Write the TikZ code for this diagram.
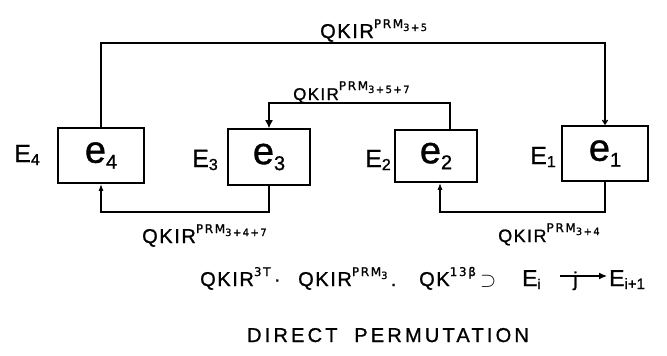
\documentclass[tikz,border=0pt]{standalone}
\usepackage{fontspec}
\setmainfont{Liberation Sans}[FakeBold=1]
\newfontfamily\hand[LetterSpace=8,FakeBold=1]{Liberation Sans}
\newfontfamily\handsup[LetterSpace=14,FakeBold=1]{DejaVu Sans}
\newfontfamily\handwide[LetterSpace=16,FakeBold=1]{Liberation Sans}
\usetikzlibrary{arrows.meta}
\newcommand{\hsz}[1]{\fontsize{#1}{#1}\selectfont}
\newcommand{\myup}[1]{\raisebox{10pt}{\handsup\hsz{12}#1}}
\newcommand{\mydn}[1]{\raisebox{-3pt}{\hsz{10}#1}}
\newcommand{\ebig}[1]{\raisebox{-6pt}{\hsz{20}#1}}
\begin{document}
\begin{tikzpicture}[x=1pt,y=-1pt,
  box/.style={draw,line width=1.7pt,inner sep=0pt},
  wire/.style={line width=1.2pt},
  tipup/.style={-{Latex[length=7pt,width=5pt]}},
  tipbig/.style={-{Latex[length=8pt,width=8pt]}},
  tipsmall/.style={-{Straight Barb[length=4pt,width=5pt]}},
  lab/.style={anchor=base west,inner sep=0pt,font=\hand\hsz{20}},
  elab/.style={inner sep=0pt,font=\hsz{25}},
  inbox/.style={font=\hsz{38}}]
\useasboundingbox (0,0) rectangle (667,356);
\fill[white] (0,0) rectangle (667,356);

% boxes
\node[box,minimum width=86pt,minimum height=55pt,inbox] (b4) at (101,155.5) {e\ebig{4}};
\node[box,minimum width=82pt,minimum height=56pt,inbox] (b3) at (269,157) {e\ebig{3}};
\node[box,minimum width=82pt,minimum height=52pt,inbox] (b2) at (436,156) {e\ebig{2}};
\node[box,minimum width=86pt,minimum height=55pt,inbox] (b1) at (605,153.5) {e\ebig{1}};

% E labels
\node[elab] (E4) at (27,155) {E\mydn{\hsz{16}4}};
\node[elab] (E3) at (205,160) {E\mydn{\hsz{16}3}};
\node[elab] (E2) at (378,160) {E\mydn{\hsz{16}2}};
\node[elab] (E1) at (543,157) {E\mydn{\hsz{16}1}};

% routing coordinates
\coordinate (top) at (350,43);
\coordinate (inner) at (350,103);
\coordinate (bl) at (180,212);
\coordinate (br) at (520,212);

% connectors
\draw[wire,tipsmall] (b4.north) |- (top) -| (b1.north);
\draw[wire,tipbig] ([xshift=14pt]b2.north) |- (inner) -| (b3.north);
\draw[wire,tipup] (b3.south) |- (bl) -| (b4.south);
\draw[wire,tipup] (b1.south) |- (br) -| ([xshift=4pt]b2.south);

% connector labels
\node[lab] (l1) at (320,38) {QKIR\myup{PRM\mydn{3+5}}};
\node[lab,font=\hand\hsz{17}] (l2) at (293,100) {QKIR\myup{PRM\mydn{3+5+7}}};
\node[lab] (l3) at (142,243) {QKIR\myup{PRM\mydn{3+4+7}}};
\node[lab,font=\hand\hsz{18}] (l4) at (498,242) {QKIR\myup{PRM\mydn{3+4}}};

% formula
\node[lab] (f1) at (200,286) {QKIR\myup{3T}\,·};
\node[lab] (f2) at (298,286) {QKIR\myup{PRM\mydn{3}}\,.};
\node[lab] (f3) at (419,286) {QK\myup{13β}};
\node[lab] (f4) at (480,286) {$\supset$};
\node[lab,font=\hsz{23}] (f5) at (522,286) {E\mydn{\hsz{14}i}};
\node[lab] (fj) at (573,286) {j};
\coordinate (ja) at (560,276);
\coordinate (jb) at (607,276);
\draw[wire,-{Latex[length=8pt,width=7pt]}] (ja) -- (jb);
\node[lab,font=\hsz{23}] (f6) at (609,286) {E\mydn{\hsz{15}i+1}};

% title
\node[anchor=base,inner sep=0pt,font=\handwide\hsz{20}] (title) at (388,342) {DIRECT\hspace{8pt} PERMUTATION};
\end{tikzpicture}
\end{document}
